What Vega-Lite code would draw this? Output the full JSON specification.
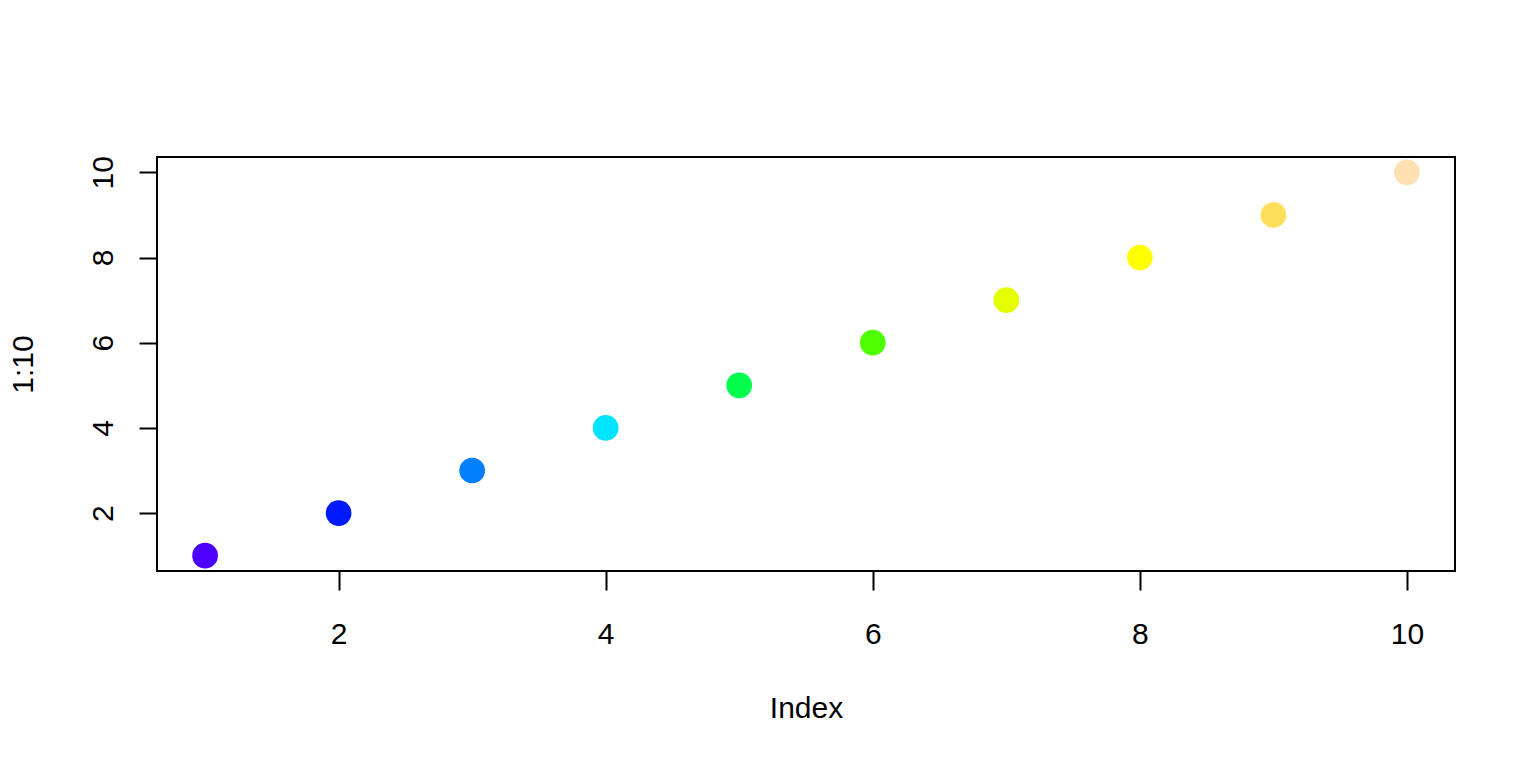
{
  "$schema": "https://vega.github.io/schema/vega-lite/v6.json",
  "width": 1298,
  "height": 414,
  "autosize": {"type": "none"},
  "padding": {"left": 157, "top": 157, "right": 81, "bottom": 197},
  "background": "white",
  "view": {"stroke": "black", "strokeWidth": 2, "fill": "white"},
  "config": {
    "font": "Liberation Sans",
    "axis": {
      "grid": false,
      "domain": false,
      "tickColor": "black",
      "tickWidth": 2,
      "labelColor": "black",
      "titleColor": "black",
      "labelFont": "Liberation Sans",
      "titleFont": "Liberation Sans",
      "labelFontSize": 30,
      "titleFontSize": 30,
      "titleFontWeight": "normal"
    }
  },
  "data": {
    "values": [
      {"i": 1, "v": 1},
      {"i": 2, "v": 2},
      {"i": 3, "v": 3},
      {"i": 4, "v": 4},
      {"i": 5, "v": 5},
      {"i": 6, "v": 6},
      {"i": 7, "v": 7},
      {"i": 8, "v": 8},
      {"i": 9, "v": 9},
      {"i": 10, "v": 10}
    ]
  },
  "mark": {"type": "circle", "size": 660, "opacity": 1},
  "encoding": {
    "x": {
      "field": "i",
      "type": "quantitative",
      "scale": {"domain": [0.64, 10.36], "nice": false, "zero": false},
      "axis": {
        "title": "Index",
        "values": [2, 4, 6, 8, 10],
        "tickSize": 19,
        "labelPadding": 29,
        "labelBaseline": "top",
        "labelFlush": false,
        "titleX": 649,
        "titleY": 137,
        "titleBaseline": "middle",
        "titleAlign": "center"
      }
    },
    "y": {
      "field": "v",
      "type": "quantitative",
      "scale": {"domain": [0.64, 10.36], "nice": false, "zero": false},
      "axis": {
        "title": "1:10",
        "values": [2, 4, 6, 8, 10],
        "tickSize": 18,
        "labelAngle": -90,
        "labelAlign": "center",
        "labelBaseline": "alphabetic",
        "labelPadding": 27,
        "labelFlush": false,
        "titleAngle": -90,
        "titleX": -134,
        "titleY": 207,
        "titleBaseline": "middle",
        "titleAlign": "center"
      }
    },
    "color": {
      "field": "i",
      "type": "ordinal",
      "scale": {
        "domain": [1, 2, 3, 4, 5, 6, 7, 8, 9, 10],
        "range": ["#4C00FF", "#0019FF", "#0080FF", "#00E5FF", "#00FF4D", "#4DFF00", "#E6FF00", "#FFFF00", "#FFDE59", "#FFE0B3"]
      },
      "legend": null
    }
  }
}
